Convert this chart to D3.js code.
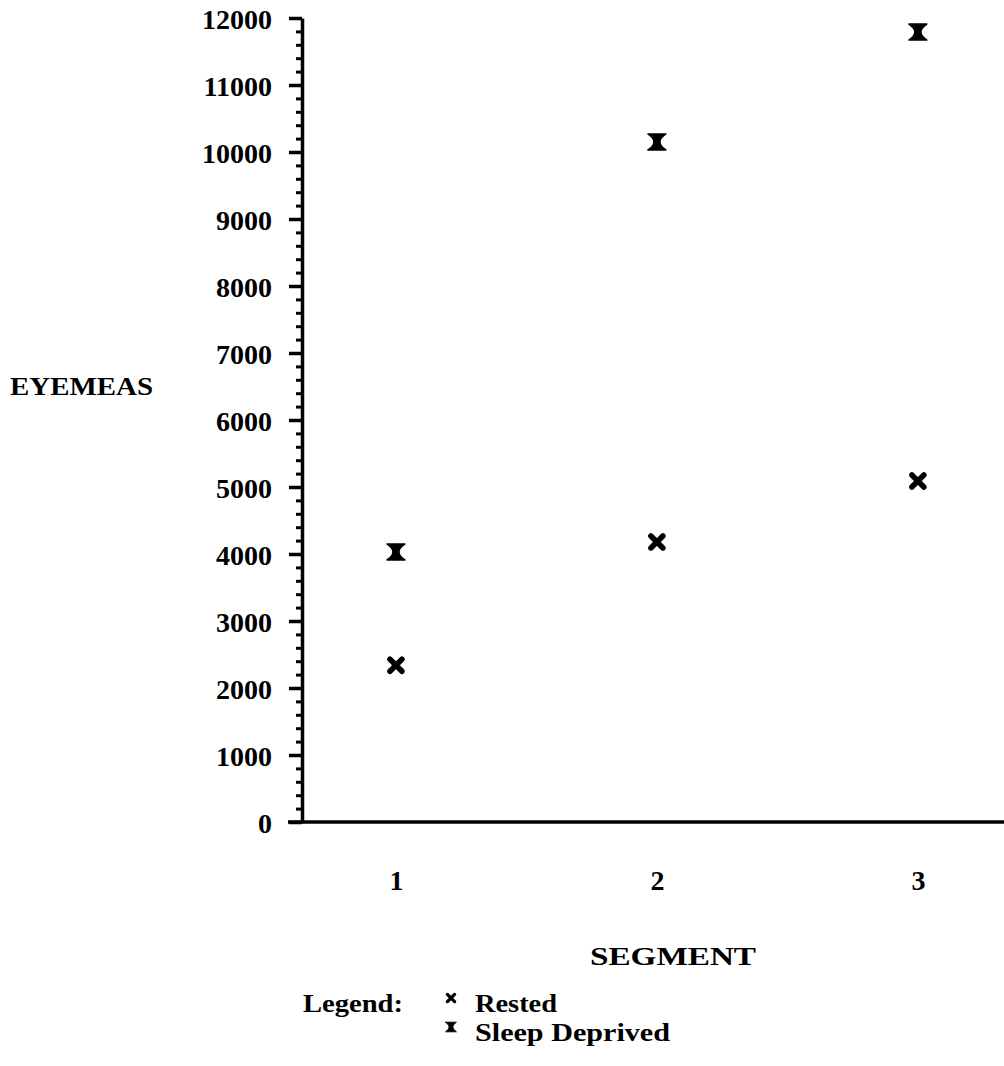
<!DOCTYPE html>
<html>
<head>
<meta charset="utf-8">
<script src="https://cdn.jsdelivr.net/npm/d3@7"></script>
<style>
  body { margin: 0; background: #fff; }
  svg text { font-family: "Liberation Serif", "Times New Roman", Times, serif; font-weight: bold; fill: #000; }
</style>
</head>
<body>
<div id="chart"></div>
<script>
var segments = [1, 2, 3];
var rested = [2340, 4180, 5090];
var sleepDeprived = [4030, 10150, 11790];
var yTicks = [0, 1000, 2000, 3000, 4000, 5000, 6000, 7000, 8000, 9000, 10000, 11000, 12000];
var xTicks = ["1", "2", "3"];

var width = 1004, height = 1066;
var serif = "'Liberation Serif', 'Times New Roman', Times, serif";

var svg = d3.select("#chart").append("svg")
  .attr("width", width)
  .attr("height", height);

var x = d3.scaleLinear().domain([0.64, 3.33]).range([302, 1004]);
var y = d3.scaleLinear().domain([0, 12000]).range([822, 18]);

// marker shapes
var crossPath = "M-6,-6L6,6M6,-6L-6,6";
var hourglassPath = "M-9,-8L9,-8Q-3,0 9,8L-9,8Q3,0 -9,-8Z";

// minor ticks every 200
var minor = [];
yTicks.forEach(function (t) {
  for (var k = 1; k < 5; k++) {
    if (t + k * 200 < 12000) minor.push(t + k * 200);
  }
});

var yMinor = svg.append("g")
  .attr("transform", "translate(302,0)")
  .call(d3.axisLeft(y).tickValues(minor).tickSize(6).tickSizeOuter(0).tickFormat(""));
yMinor.select(".domain").remove();
yMinor.selectAll("line").attr("stroke", "#000").attr("stroke-width", 3);

var yAxis = svg.append("g")
  .attr("transform", "translate(302,0)")
  .call(d3.axisLeft(y).tickValues(yTicks).tickSize(13).tickSizeOuter(0).tickPadding(17).tickFormat(d3.format("d")));
yAxis.attr("font-family", serif);
yAxis.select(".domain").attr("stroke", "#000").attr("stroke-width", 3.5);
yAxis.selectAll("line").attr("stroke", "#000").attr("stroke-width", 3.5);
yAxis.selectAll("text")
  .style("font-size", "28px")
  .style("font-family", serif)
  .style("font-weight", "bold")
  .attr("dy", "0.36em");

// x axis line, reaches a bit left of the y axis
svg.append("line")
  .attr("x1", x.range()[0] - 14)
  .attr("x2", x.range()[1])
  .attr("y1", y(0))
  .attr("y2", y(0))
  .attr("stroke", "#000")
  .attr("stroke-width", 3.5);

var xAxis = svg.append("g")
  .attr("transform", "translate(0," + y(0) + ")")
  .call(d3.axisBottom(x).tickValues(segments).tickSize(0).tickPadding(68).tickFormat(function (d, i) { return xTicks[i]; }));
xAxis.attr("font-family", serif);
xAxis.select(".domain").remove();
xAxis.selectAll("text")
  .style("font-size", "28px")
  .style("font-family", serif)
  .style("font-weight", "bold")
  .attr("dy", "0");

// points
svg.append("g").selectAll("path")
  .data(segments)
  .enter().append("path")
  .attr("d", crossPath)
  .attr("transform", function (d, i) { return "translate(" + x(d) + "," + y(rested[i]) + ")"; })
  .attr("fill", "none")
  .attr("stroke", "#000")
  .attr("stroke-width", 5.5)
  .attr("stroke-linecap", "round");

svg.append("g").selectAll("path")
  .data(segments)
  .enter().append("path")
  .attr("d", hourglassPath)
  .attr("transform", function (d, i) { return "translate(" + x(d) + "," + y(sleepDeprived[i]) + ")"; })
  .attr("fill", "#000")
  .attr("stroke", "#000")
  .attr("stroke-width", 1.5)
  .attr("stroke-linejoin", "round");

// axis titles
svg.append("text")
  .attr("x", 10).attr("y", 395)
  .attr("textLength", 143)
  .attr("lengthAdjust", "spacingAndGlyphs")
  .style("font-size", "25px")
  .text("EYEMEAS");

svg.append("text")
  .attr("x", 590).attr("y", 965)
  .attr("textLength", 166)
  .attr("lengthAdjust", "spacingAndGlyphs")
  .style("font-size", "25px")
  .text("SEGMENT");

// legend
svg.append("text")
  .attr("x", 303).attr("y", 1012)
  .attr("textLength", 100)
  .attr("lengthAdjust", "spacingAndGlyphs")
  .style("font-size", "25px")
  .text("Legend:");

var legendItems = [
  { label: "Rested", shape: crossPath, y: 1012, len: 82 },
  { label: "Sleep Deprived", shape: hourglassPath, y: 1041, len: 195 }
];

var lg = svg.append("g").selectAll("g")
  .data(legendItems)
  .enter().append("g");

lg.append("path")
  .attr("d", function (d) { return d.shape; })
  .attr("transform", function (d) { return "translate(451," + (d.y - 14) + ") scale(0.6)"; })
  .attr("fill", function (d, i) { return i === 0 ? "none" : "#000"; })
  .attr("stroke", "#000")
  .attr("stroke-width", function (d, i) { return i === 0 ? 5.5 : 1.5; })
  .attr("stroke-linecap", "round");

lg.append("text")
  .attr("x", 475)
  .attr("y", function (d) { return d.y; })
  .attr("textLength", function (d) { return d.len; })
  .attr("lengthAdjust", "spacingAndGlyphs")
  .style("font-size", "25px")
  .text(function (d) { return d.label; });
</script>
</body>
</html>
